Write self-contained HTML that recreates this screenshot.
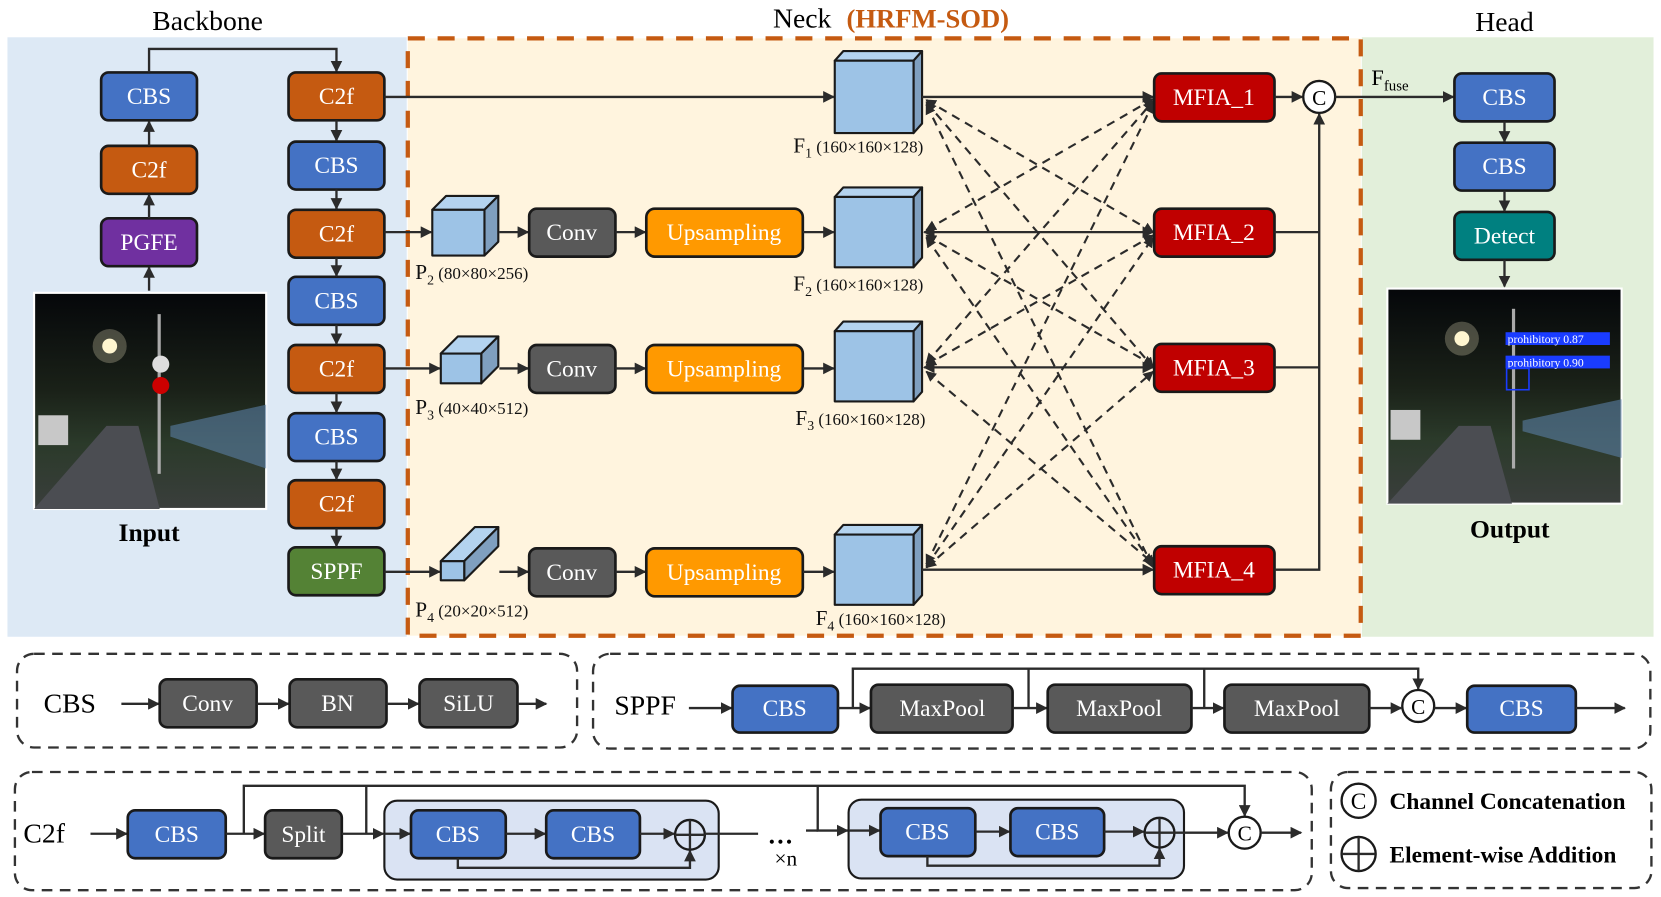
<!DOCTYPE html>
<html><head><meta charset="utf-8"><style>
html,body{margin:0;padding:0;background:#fff;}
svg{display:block;}
text{font-family:"Liberation Serif",serif;}
.bt{fill:#fff;font-size:22px;text-anchor:middle;dominant-baseline:central;}
.bx{stroke:#1a1a1a;stroke-width:2.5;}
.ln{stroke:#2b2b2b;stroke-width:2.2;fill:none;}
.ds{stroke:#2b2b2b;stroke-width:2;fill:none;stroke-dasharray:8 6;}
.pn{stroke:#333;stroke-width:2.2;fill:none;stroke-dasharray:10 7;}
.lb{fill:#111;font-size:16px;}
</style></head><body>
<svg width="1661" height="897" viewBox="0 0 1560 842.4" preserveAspectRatio="none" xmlns="http://www.w3.org/2000/svg">
<defs>
<marker id="a" viewBox="0 0 10 10" refX="9" refY="5" markerWidth="5" markerHeight="5" orient="auto-start-reverse"><path d="M0,0L10,5L0,10z" fill="#2b2b2b"/></marker>
<linearGradient id="night" x1="0" y1="0" x2="0" y2="1"><stop offset="0" stop-color="#05070a"/><stop offset="0.45" stop-color="#1a2118"/><stop offset="0.7" stop-color="#2b3a2a"/><stop offset="1" stop-color="#3a3e3c"/></linearGradient>
</defs>
<!-- panels -->
<rect x="7" y="35" width="375" height="563" fill="#dde9f5"/>
<rect x="1279" y="35" width="274" height="563" fill="#e2efda"/>
<rect x="383" y="36" width="895" height="561" fill="#fff4de" stroke="#c55a11" stroke-width="4" stroke-dasharray="16 12"/>
<text x="195" y="28" font-size="26" text-anchor="middle">Backbone</text>
<text x="726" y="26" font-size="26">Neck</text>
<text x="795" y="26" font-size="25" font-weight="bold" fill="#c55a11">(HRFM-SOD)</text>
<text x="1413" y="29" font-size="26" text-anchor="middle">Head</text>

<!-- backbone left column -->
<rect class="bx" x="95" y="68" width="90" height="45" rx="7" fill="#4472c4"/><text class="bt" x="140" y="91">CBS</text>
<rect class="bx" x="95" y="137" width="90" height="45" rx="7" fill="#c55a11"/><text class="bt" x="140" y="160">C2f</text>
<rect class="bx" x="95" y="205" width="90" height="45" rx="7" fill="#7030a0"/><text class="bt" x="140" y="228">PGFE</text>
<line class="ln" x1="140" y1="137" x2="140" y2="114" marker-end="url(#a)"/>
<line class="ln" x1="140" y1="205" x2="140" y2="183" marker-end="url(#a)"/>
<line class="ln" x1="140" y1="273" x2="140" y2="251" marker-end="url(#a)"/>
<path class="ln" d="M140,68V46H316V67" marker-end="url(#a)"/>
<!-- input image -->
<rect x="32" y="275" width="218" height="203" fill="url(#night)" stroke="#fff" stroke-width="2"/>
<circle cx="103" cy="325" r="7" fill="#fff6d0"/><circle cx="103" cy="325" r="16" fill="#fff6d0" opacity="0.25"/>
<rect x="148" y="295" width="3" height="150" fill="#aaa"/>
<circle cx="151" cy="342" r="8" fill="#ddd"/><circle cx="151" cy="362" r="8" fill="#c00"/>
<path d="M32,478L100,400L130,400L150,478z" fill="#4b4d52"/>
<rect x="36" y="390" width="28" height="28" fill="#c8c8c8"/>
<path d="M160,400L250,380L250,440L160,410z" fill="#5a7fa5" opacity="0.6"/>
<text x="140" y="508" font-size="24" font-weight="bold" text-anchor="middle">Input</text>

<!-- backbone right column -->
<g>
<rect class="bx" x="271" y="68" width="90" height="45" rx="7" fill="#c55a11"/><text class="bt" x="316" y="91">C2f</text>
<rect class="bx" x="271" y="133" width="90" height="45" rx="7" fill="#4472c4"/><text class="bt" x="316" y="156">CBS</text>
<rect class="bx" x="271" y="197" width="90" height="45" rx="7" fill="#c55a11"/><text class="bt" x="316" y="220">C2f</text>
<rect class="bx" x="271" y="260" width="90" height="45" rx="7" fill="#4472c4"/><text class="bt" x="316" y="283">CBS</text>
<rect class="bx" x="271" y="324" width="90" height="45" rx="7" fill="#c55a11"/><text class="bt" x="316" y="347">C2f</text>
<rect class="bx" x="271" y="388" width="90" height="45" rx="7" fill="#4472c4"/><text class="bt" x="316" y="411">CBS</text>
<rect class="bx" x="271" y="451" width="90" height="45" rx="7" fill="#c55a11"/><text class="bt" x="316" y="474">C2f</text>
<rect class="bx" x="271" y="514" width="90" height="45" rx="7" fill="#548235"/><text class="bt" x="316" y="537">SPPF</text>
<line class="ln" x1="316" y1="113" x2="316" y2="132" marker-end="url(#a)"/>
<line class="ln" x1="316" y1="178" x2="316" y2="196" marker-end="url(#a)"/>
<line class="ln" x1="316" y1="242" x2="316" y2="259" marker-end="url(#a)"/>
<line class="ln" x1="316" y1="305" x2="316" y2="323" marker-end="url(#a)"/>
<line class="ln" x1="316" y1="369" x2="316" y2="387" marker-end="url(#a)"/>
<line class="ln" x1="316" y1="433" x2="316" y2="450" marker-end="url(#a)"/>
<line class="ln" x1="316" y1="496" x2="316" y2="513" marker-end="url(#a)"/>
</g>

<!-- neck rows -->
<line class="ln" x1="361" y1="91" x2="783" y2="91" marker-end="url(#a)"/>
<line class="ln" x1="361" y1="218" x2="405" y2="218" marker-end="url(#a)"/>
<line class="ln" x1="361" y1="346" x2="413" y2="346" marker-end="url(#a)"/>
<line class="ln" x1="361" y1="537" x2="413" y2="537" marker-end="url(#a)"/>
<!-- P cubes -->
<g stroke="#1a1a1a" stroke-width="2" stroke-linejoin="round">
<path d="M406,197L419,184H468L455,197z" fill="#b4d3ef"/><path d="M455,197L468,184V227L455,240z" fill="#7f9fbf"/><rect x="406" y="197" width="49" height="43" fill="#9dc3e6"/>
<path d="M414,332L430,316H468L452,332z" fill="#b4d3ef"/><path d="M452,332L468,316V344L452,360z" fill="#7f9fbf"/><rect x="414" y="332" width="38" height="28" fill="#9dc3e6"/>
<path d="M414,527L446,495H468L436,527z" fill="#b4d3ef"/><path d="M436,527L468,495V513L436,545z" fill="#7f9fbf"/><rect x="414" y="527" width="22" height="18" fill="#9dc3e6"/>
</g>
<text class="lb" x="390" y="262"><tspan font-size="20">P</tspan><tspan font-size="13" dy="5">2</tspan><tspan dy="-5"> (80×80×256)</tspan></text>
<text class="lb" x="390" y="389"><tspan font-size="20">P</tspan><tspan font-size="13" dy="5">3</tspan><tspan dy="-5"> (40×40×512)</tspan></text>
<text class="lb" x="390" y="579"><tspan font-size="20">P</tspan><tspan font-size="13" dy="5">4</tspan><tspan dy="-5"> (20×20×512)</tspan></text>
<line class="ln" x1="469" y1="218" x2="496" y2="218" marker-end="url(#a)"/>
<line class="ln" x1="469" y1="346" x2="496" y2="346" marker-end="url(#a)"/>
<line class="ln" x1="469" y1="537" x2="496" y2="537" marker-end="url(#a)"/>
<rect class="bx" x="497" y="196" width="81" height="45" rx="7" fill="#595959"/><text class="bt" x="537" y="219">Conv</text>
<rect class="bx" x="497" y="324" width="81" height="45" rx="7" fill="#595959"/><text class="bt" x="537" y="347">Conv</text>
<rect class="bx" x="497" y="515" width="81" height="45" rx="7" fill="#595959"/><text class="bt" x="537" y="538">Conv</text>
<line class="ln" x1="578" y1="218" x2="606" y2="218" marker-end="url(#a)"/>
<line class="ln" x1="578" y1="346" x2="606" y2="346" marker-end="url(#a)"/>
<line class="ln" x1="578" y1="537" x2="606" y2="537" marker-end="url(#a)"/>
<rect class="bx" x="607" y="196" width="147" height="45" rx="8" fill="#ff9900"/><text class="bt" x="680" y="219">Upsampling</text>
<rect class="bx" x="607" y="324" width="147" height="45" rx="8" fill="#ff9900"/><text class="bt" x="680" y="347">Upsampling</text>
<rect class="bx" x="607" y="515" width="147" height="45" rx="8" fill="#ff9900"/><text class="bt" x="680" y="538">Upsampling</text>
<line class="ln" x1="754" y1="218" x2="783" y2="218" marker-end="url(#a)"/>
<line class="ln" x1="754" y1="346" x2="783" y2="346" marker-end="url(#a)"/>
<line class="ln" x1="754" y1="537" x2="783" y2="537" marker-end="url(#a)"/>
<!-- F cubes -->
<g stroke="#1a1a1a" stroke-width="2" stroke-linejoin="round">
<path d="M784,57L792,48H866L858,57z" fill="#b4d3ef"/><path d="M858,57L866,48V116L858,125z" fill="#7f9fbf"/><rect x="784" y="57" width="74" height="68" fill="#9dc3e6"/>
<path d="M784,185L792,176H866L858,185z" fill="#b4d3ef"/><path d="M858,185L866,176V242L858,251z" fill="#7f9fbf"/><rect x="784" y="185" width="74" height="66" fill="#9dc3e6"/>
<path d="M784,311L792,302H866L858,311z" fill="#b4d3ef"/><path d="M858,311L866,302V368L858,377z" fill="#7f9fbf"/><rect x="784" y="311" width="74" height="66" fill="#9dc3e6"/>
<path d="M784,502L792,493H866L858,502z" fill="#b4d3ef"/><path d="M858,502L866,493V559L858,568z" fill="#7f9fbf"/><rect x="784" y="502" width="74" height="66" fill="#9dc3e6"/>
</g>
<text class="lb" x="745" y="143"><tspan font-size="20">F</tspan><tspan font-size="13" dy="5">1</tspan><tspan dy="-5"> (160×160×128)</tspan></text>
<text class="lb" x="745" y="273"><tspan font-size="20">F</tspan><tspan font-size="13" dy="5">2</tspan><tspan dy="-5"> (160×160×128)</tspan></text>
<text class="lb" x="747" y="399"><tspan font-size="20">F</tspan><tspan font-size="13" dy="5">3</tspan><tspan dy="-5"> (160×160×128)</tspan></text>
<text class="lb" x="766" y="587"><tspan font-size="20">F</tspan><tspan font-size="13" dy="5">4</tspan><tspan dy="-5"> (160×160×128)</tspan></text>
<!-- F to MFIA solid -->
<line class="ln" x1="866" y1="91" x2="1083" y2="91" marker-end="url(#a)"/>
<line class="ln" x1="868" y1="218" x2="1083" y2="218" marker-start="url(#a)" marker-end="url(#a)"/>
<line class="ln" x1="868" y1="345" x2="1083" y2="345" marker-start="url(#a)" marker-end="url(#a)"/>
<line class="ln" x1="866" y1="535" x2="1083" y2="535" marker-end="url(#a)"/>
<!-- dashed cross -->
<g class="ds">
<line x1="870" y1="94" x2="1083" y2="218" marker-start="url(#a)" marker-end="url(#a)"/>
<line x1="870" y1="96" x2="1083" y2="345" marker-start="url(#a)" marker-end="url(#a)"/>
<line x1="870" y1="98" x2="1083" y2="533" marker-start="url(#a)" marker-end="url(#a)"/>
<line x1="870" y1="216" x2="1083" y2="93" marker-start="url(#a)" marker-end="url(#a)"/>
<line x1="870" y1="221" x2="1083" y2="343" marker-start="url(#a)" marker-end="url(#a)"/>
<line x1="870" y1="223" x2="1083" y2="531" marker-start="url(#a)" marker-end="url(#a)"/>
<line x1="870" y1="341" x2="1083" y2="95" marker-start="url(#a)" marker-end="url(#a)"/>
<line x1="870" y1="343" x2="1083" y2="221" marker-start="url(#a)" marker-end="url(#a)"/>
<line x1="870" y1="349" x2="1083" y2="529" marker-start="url(#a)" marker-end="url(#a)"/>
<line x1="870" y1="530" x2="1083" y2="97" marker-start="url(#a)" marker-end="url(#a)"/>
<line x1="870" y1="532" x2="1083" y2="223" marker-start="url(#a)" marker-end="url(#a)"/>
<line x1="870" y1="533" x2="1083" y2="349" marker-start="url(#a)" marker-end="url(#a)"/>
</g>
<!-- MFIA -->
<rect class="bx" x="1084" y="69" width="113" height="45" rx="7" fill="#c00000"/><text class="bt" x="1140" y="92">MFIA_1</text>
<rect class="bx" x="1084" y="196" width="113" height="45" rx="7" fill="#c00000"/><text class="bt" x="1140" y="219">MFIA_2</text>
<rect class="bx" x="1084" y="323" width="113" height="45" rx="7" fill="#c00000"/><text class="bt" x="1140" y="346">MFIA_3</text>
<rect class="bx" x="1084" y="513" width="113" height="45" rx="7" fill="#c00000"/><text class="bt" x="1140" y="536">MFIA_4</text>
<line class="ln" x1="1197" y1="91" x2="1223" y2="91" marker-end="url(#a)"/>
<path class="ln" d="M1197,218H1239M1197,345H1239M1197,535H1239V107" marker-end="url(#a)"/>
<circle cx="1239" cy="91" r="15" fill="#fff" stroke="#1a1a1a" stroke-width="2.2"/><text x="1239" y="92" font-size="20" text-anchor="middle" dominant-baseline="central" font-family="Liberation Sans,sans-serif">C</text>
<line class="ln" x1="1254" y1="91" x2="1365" y2="91" marker-end="url(#a)"/>
<text x="1288" y="80" font-size="21">F<tspan font-size="14" dy="5">fuse</tspan></text>
<!-- head -->
<rect class="bx" x="1366" y="69" width="94" height="45" rx="7" fill="#4472c4"/><text class="bt" x="1413" y="92">CBS</text>
<rect class="bx" x="1366" y="134" width="94" height="45" rx="7" fill="#4472c4"/><text class="bt" x="1413" y="157">CBS</text>
<rect class="bx" x="1366" y="199" width="94" height="45" rx="7" fill="#008080"/><text class="bt" x="1413" y="222">Detect</text>
<line class="ln" x1="1413" y1="114" x2="1413" y2="133" marker-end="url(#a)"/>
<line class="ln" x1="1413" y1="179" x2="1413" y2="198" marker-end="url(#a)"/>
<line class="ln" x1="1413" y1="244" x2="1413" y2="269" marker-end="url(#a)"/>
<rect x="1303" y="271" width="220" height="202" fill="url(#night)" stroke="#fff" stroke-width="2"/>
<circle cx="1373" cy="318" r="7" fill="#fff6d0"/><circle cx="1373" cy="318" r="16" fill="#fff6d0" opacity="0.25"/>
<rect x="1420" y="290" width="3" height="150" fill="#aaa"/>
<path d="M1303,473L1370,400L1400,400L1420,473z" fill="#4b4d52"/>
<rect x="1306" y="385" width="28" height="28" fill="#c8c8c8"/>
<path d="M1430,395L1523,375L1523,430L1430,405z" fill="#5a7fa5" opacity="0.6"/>
<rect x="1414" y="312" width="98" height="12" fill="#1a3cff"/><text x="1416" y="322" font-size="11" fill="#fff" font-family="Liberation Sans,sans-serif">prohibitory 0.87</text>
<rect x="1414" y="334" width="98" height="12" fill="#1a3cff"/><text x="1416" y="344" font-size="11" fill="#fff" font-family="Liberation Sans,sans-serif">prohibitory 0.90</text>
<rect x="1415" y="346" width="21" height="20" fill="none" stroke="#1a3cff" stroke-width="1.5"/>
<text x="1418" y="505" font-size="24" font-weight="bold" text-anchor="middle">Output</text>

<!-- bottom CBS panel -->
<rect class="pn" x="16" y="614" width="526" height="88" rx="16"/>
<text x="41" y="669" font-size="26">CBS</text>
<line class="ln" x1="114" y1="661" x2="149" y2="661" marker-end="url(#a)"/>
<rect class="bx" x="150" y="638" width="91" height="45" rx="7" fill="#595959"/><text class="bt" x="195" y="661">Conv</text>
<line class="ln" x1="241" y1="661" x2="271" y2="661" marker-end="url(#a)"/>
<rect class="bx" x="272" y="638" width="91" height="45" rx="7" fill="#595959"/><text class="bt" x="317" y="661">BN</text>
<line class="ln" x1="363" y1="661" x2="393" y2="661" marker-end="url(#a)"/>
<rect class="bx" x="394" y="638" width="92" height="45" rx="7" fill="#595959"/><text class="bt" x="440" y="661">SiLU</text>
<line class="ln" x1="486" y1="661" x2="513" y2="661" marker-end="url(#a)"/>

<!-- SPPF panel -->
<rect class="pn" x="557" y="614" width="993" height="89" rx="16"/>
<text x="577" y="671" font-size="26">SPPF</text>
<line class="ln" x1="647" y1="665" x2="687" y2="665" marker-end="url(#a)"/>
<rect class="bx" x="688" y="644" width="99" height="44" rx="7" fill="#4472c4"/><text class="bt" x="737" y="666">CBS</text>
<line class="ln" x1="787" y1="665" x2="817" y2="665" marker-end="url(#a)"/>
<rect class="bx" x="818" y="643" width="133" height="45" rx="7" fill="#595959"/><text class="bt" x="885" y="666">MaxPool</text>
<line class="ln" x1="951" y1="665" x2="983" y2="665" marker-end="url(#a)"/>
<rect class="bx" x="984" y="643" width="135" height="45" rx="7" fill="#595959"/><text class="bt" x="1051" y="666">MaxPool</text>
<line class="ln" x1="1119" y1="665" x2="1149" y2="665" marker-end="url(#a)"/>
<rect class="bx" x="1150" y="643" width="136" height="45" rx="7" fill="#595959"/><text class="bt" x="1218" y="666">MaxPool</text>
<line class="ln" x1="1286" y1="665" x2="1316" y2="665" marker-end="url(#a)"/>
<path class="ln" d="M801,665V628H1332V647" marker-end="url(#a)"/>
<path class="ln" d="M966,665V628M1131,665V628"/>
<circle cx="1332" cy="663" r="15" fill="#fff" stroke="#1a1a1a" stroke-width="2.2"/><text x="1332" y="664" font-size="20" text-anchor="middle" dominant-baseline="central" font-family="Liberation Sans,sans-serif">C</text>
<line class="ln" x1="1347" y1="665" x2="1377" y2="665" marker-end="url(#a)"/>
<rect class="bx" x="1378" y="644" width="102" height="44" rx="7" fill="#4472c4"/><text class="bt" x="1429" y="666">CBS</text>
<line class="ln" x1="1480" y1="665" x2="1526" y2="665" marker-end="url(#a)"/>

<!-- C2f panel -->
<rect class="pn" x="14" y="725" width="1218" height="111" rx="16"/>
<text x="22" y="791" font-size="26">C2f</text>
<line class="ln" x1="85" y1="783" x2="119" y2="783" marker-end="url(#a)"/>
<rect class="bx" x="120" y="761" width="92" height="45" rx="7" fill="#4472c4"/><text class="bt" x="166" y="784">CBS</text>
<line class="ln" x1="212" y1="783" x2="248" y2="783" marker-end="url(#a)"/>
<rect class="bx" x="249" y="761" width="72" height="45" rx="7" fill="#595959"/><text class="bt" x="285" y="784">Split</text>
<line class="ln" x1="321" y1="783" x2="360" y2="783" marker-end="url(#a)"/>
<path class="ln" d="M229,783V738H1169V766" marker-end="url(#a)"/>
<path class="ln" d="M344,783V738"/>
<rect x="361" y="752" width="314" height="74" rx="12" fill="#dae3f3" stroke="#1a1a1a" stroke-width="2"/>
<line class="ln" x1="361" y1="783" x2="385" y2="783" marker-end="url(#a)"/>
<rect class="bx" x="386" y="761" width="89" height="45" rx="7" fill="#4472c4"/><text class="bt" x="430" y="784">CBS</text>
<line class="ln" x1="475" y1="783" x2="512" y2="783" marker-end="url(#a)"/>
<rect class="bx" x="513" y="761" width="88" height="45" rx="7" fill="#4472c4"/><text class="bt" x="557" y="784">CBS</text>
<line class="ln" x1="601" y1="783" x2="633" y2="783" marker-end="url(#a)"/>
<path class="ln" d="M430,806V815H648V799" marker-end="url(#a)"/>
<circle cx="648" cy="784" r="14" fill="none" stroke="#1a1a1a" stroke-width="2.2"/><path class="ln" d="M634,784H662M648,770V798"/>
<line class="ln" x1="662" y1="783" x2="712" y2="783"/>
<text x="733" y="792" font-size="24" font-weight="bold" text-anchor="middle">…</text>
<text x="738" y="813" font-size="20" text-anchor="middle">×n</text>
<path class="ln" d="M768,738V780H796" marker-end="url(#a)"/>
<line class="ln" x1="757" y1="780" x2="768" y2="780"/>
<rect x="797" y="751" width="315" height="74" rx="12" fill="#dae3f3" stroke="#1a1a1a" stroke-width="2"/>
<line class="ln" x1="797" y1="780" x2="826" y2="780" marker-end="url(#a)"/>
<rect class="bx" x="827" y="759" width="89" height="45" rx="7" fill="#4472c4"/><text class="bt" x="871" y="782">CBS</text>
<line class="ln" x1="916" y1="781" x2="948" y2="781" marker-end="url(#a)"/>
<rect class="bx" x="949" y="759" width="88" height="45" rx="7" fill="#4472c4"/><text class="bt" x="993" y="782">CBS</text>
<line class="ln" x1="1037" y1="781" x2="1074" y2="781" marker-end="url(#a)"/>
<path class="ln" d="M871,804V813H1089V797" marker-end="url(#a)"/>
<circle cx="1089" cy="782" r="14" fill="none" stroke="#1a1a1a" stroke-width="2.2"/><path class="ln" d="M1075,782H1103M1089,768V796"/>
<line class="ln" x1="1103" y1="782" x2="1153" y2="782" marker-end="url(#a)"/>
<circle cx="1169" cy="782" r="15" fill="#fff" stroke="#1a1a1a" stroke-width="2.2"/><text x="1169" y="783" font-size="20" text-anchor="middle" dominant-baseline="central" font-family="Liberation Sans,sans-serif">C</text>
<line class="ln" x1="1184" y1="782" x2="1222" y2="782" marker-end="url(#a)"/>

<!-- legend -->
<rect class="pn" x="1250" y="725" width="301" height="109" rx="16"/>
<circle cx="1276" cy="752" r="16" fill="#fff" stroke="#1a1a1a" stroke-width="2.2"/><text x="1276" y="753" font-size="22" text-anchor="middle" dominant-baseline="central" font-family="Liberation Sans,sans-serif">C</text>
<text x="1305" y="760" font-size="22" font-weight="bold">Channel Concatenation</text>
<circle cx="1276" cy="802" r="16" fill="none" stroke="#1a1a1a" stroke-width="2.2"/><path class="ln" d="M1260,802H1292M1276,786V818"/>
<text x="1305" y="810" font-size="22" font-weight="bold">Element-wise Addition</text>
</svg>
</body></html>
